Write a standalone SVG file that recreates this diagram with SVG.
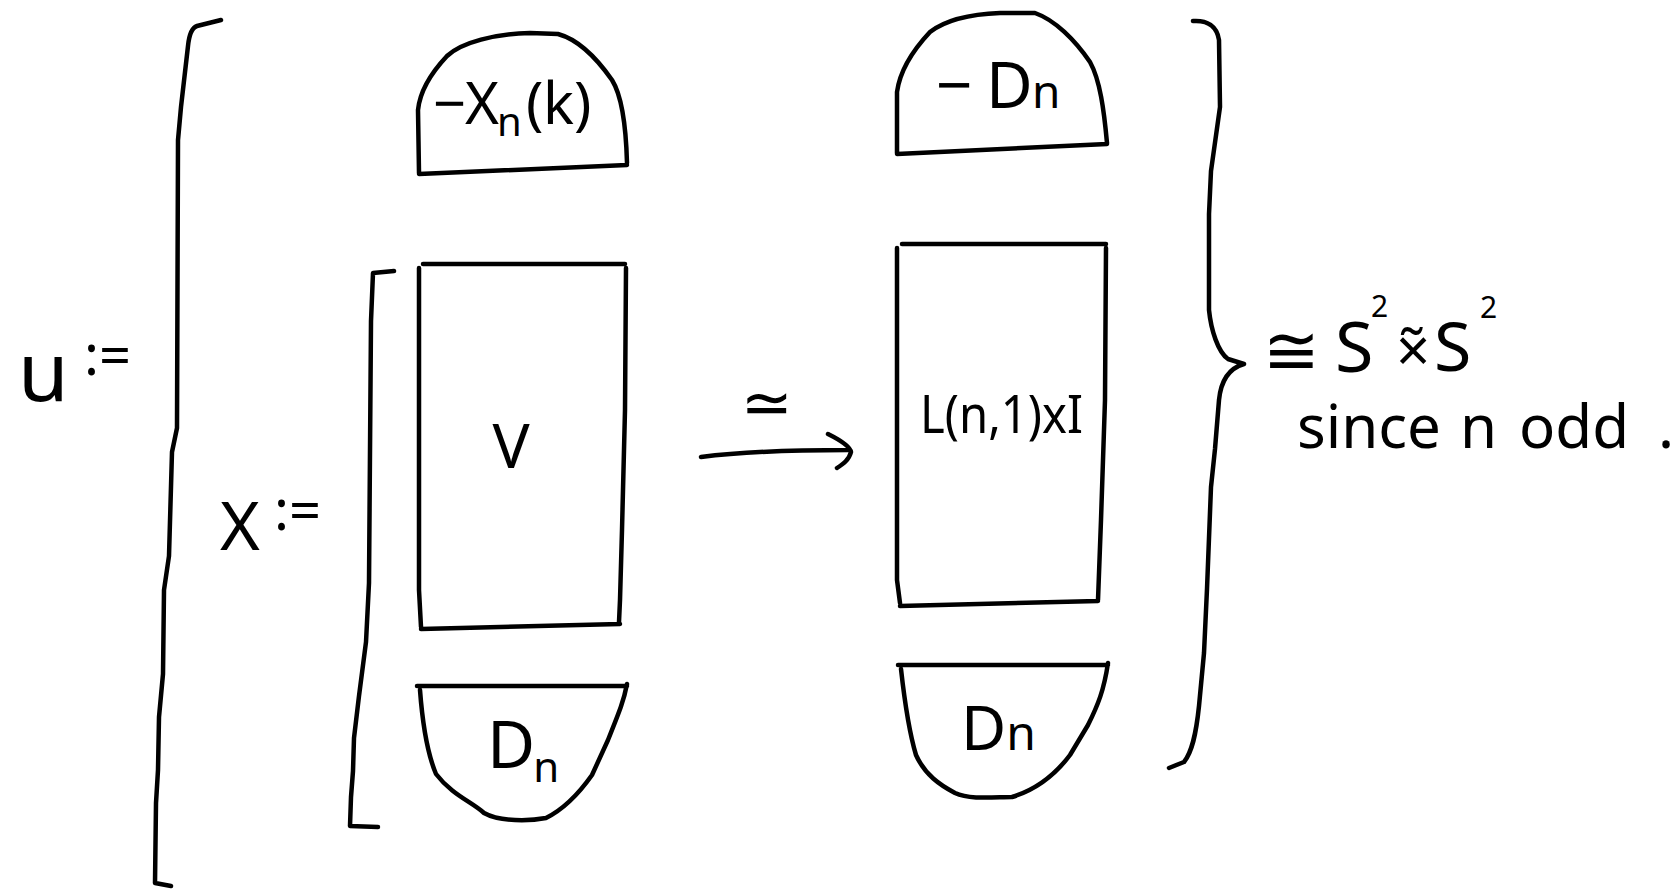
<svg xmlns="http://www.w3.org/2000/svg" width="1678" height="889" viewBox="0 0 1678 889">
<style>
.s{fill:none;stroke:#000;stroke-width:4.5;stroke-linecap:round;stroke-linejoin:round}
.t{font-family:"Noto Sans","DejaVu Sans",sans-serif;fill:#000}
</style>
<rect width="1678" height="889" fill="#fff"/>
<g id="bracket-U">
<path class="s" d="M221,20 L197,26 C191,28 189,36 188,46 L181,107 L178,140 L177,428 L172,452 L169,556 L164,590 L163,674 L159,717 L158,770 L156,803 L155,883 L171,886"/>
<text class="t" y="401" font-size="82"><tspan x="18">u</tspan><tspan x="84" y="375" font-size="56">:=</tspan></text>
</g>
<g id="bracket-X">
<path class="s" d="M394,271 L373,273 L371,321 L369,583 L366,642 L359,696 L354,738 L353,771 L351,797 L350,826 L378,827"/>
<text class="t" y="550" font-size="68"><tspan x="220">X</tspan><tspan x="274" y="530" font-size="56">:=</tspan></text>
</g>
<g id="dome-Xnk">
<path class="s" d="M419,173 L418,110 C420,90 432,72 447,56 C462,42 495,34 530,33 L558,34 C580,40 598,60 612,80 C622,96 626,125 627,163 M419,174 L627,165"/>
<text class="t" font-size="58" y="124"><tspan x="433">−</tspan><tspan x="465">X</tspan><tspan x="497" y="136" font-size="40">n</tspan><tspan x="526" y="124">(</tspan><tspan x="543">k</tspan><tspan x="574">)</tspan></text>
</g>
<g id="rect-V">
<path class="s" d="M423,264 L625,264 M419,268 L419,590 L421,627 M626,268 L625,410 L622,530 L620,600 L619,622 M421,629 L620,624"/>
<text class="t" x="511" y="468" font-size="62" text-anchor="middle">V</text>
</g>
<g id="bowl-Dn-left">
<path class="s" d="M417,686 L627,686 M420,690 C423,730 428,755 436,774 C452,795 472,802 484,813 C500,822 530,821 546,818 C566,808 580,792 592,775 L608,740 C620,710 624,700 627,684"/>
<text class="t" x="487" y="768" font-size="66">D<tspan font-size="42" dx="-2" dy="14">n</tspan></text>
</g>
<g id="dome-Dn">
<path class="s" d="M897,153 L897,92 C900,70 915,48 930,32 C948,18 975,14 1000,13 L1035,13 C1055,20 1075,40 1090,62 C1100,80 1104,110 1107,143 M897,154 L1107,144"/>
<text class="t" y="108" font-size="64"><tspan x="936">−</tspan><tspan x="986">D</tspan><tspan x="1032" font-size="46">n</tspan></text>
</g>
<g id="rect-L">
<path class="s" d="M902,244 L1106,244 M897,248 L897,580 L900,603 M1106,248 L1105,400 L1101,520 L1098,600 M900,606 L1098,601"/>
<text class="t" x="920" y="433" font-size="52" textLength="163" lengthAdjust="spacingAndGlyphs">L(n,1)xI</text>
</g>
<g id="bowl-Dn-right">
<path class="s" d="M898,665 L1108,665 M901,669 C905,705 910,735 916,755 C925,775 940,785 955,793 C970,800 995,797 1012,797 C1035,790 1055,775 1070,755 L1088,725 C1098,705 1104,690 1108,663"/>
<text class="t" x="961" y="750" font-size="62">D<tspan font-size="48" dx="0">n</tspan></text>
</g>
<g id="connectors">
<path class="s" d="M701,457 C740,452 800,450 848,450 M828,434 C840,440 850,446 851,452 C849,460 843,464 837,468"/>
<path class="s" d="M1193,21 C1207,20 1217,26 1219,40 L1220,107 L1211,171 L1209,214 L1209,310 C1211,330 1218,352 1228,359 L1244,364 C1230,368 1221,380 1219,400 L1215,449 L1211,487 L1207,589 L1204,653 L1199,706 C1196,735 1192,752 1184,762 L1169,768"/>
<text class="t" x="767" y="424" font-size="62" text-anchor="middle">≃</text>
</g>
<g id="result">
<text class="t" y="374"><tspan x="1263" font-size="68">≅</tspan><tspan x="1335" y="372" font-size="70">S</tspan><tspan x="1371" y="317" font-size="30">2</tspan><tspan x="1396" y="372" font-size="60">×̃</tspan><tspan x="1434" y="371" font-size="68">S</tspan><tspan x="1480" y="318" font-size="30">2</tspan></text>
<text class="t" font-size="60" y="448"><tspan x="1297">since</tspan><tspan x="1460">n</tspan><tspan x="1519">odd</tspan><tspan x="1658">.</tspan></text>
</g>
</svg>
